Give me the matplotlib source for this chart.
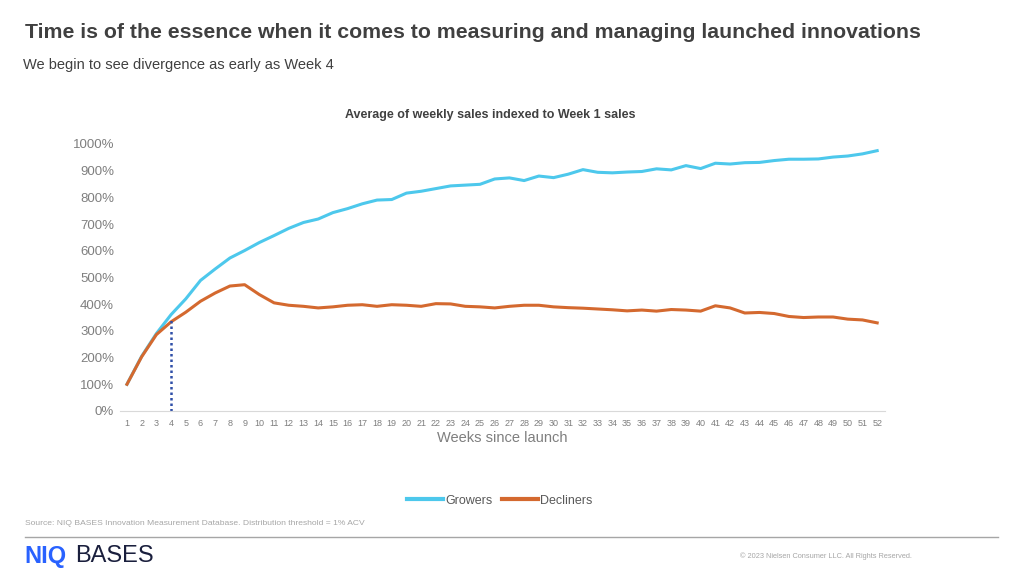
import numpy as np
import matplotlib.pyplot as plt
from matplotlib.ticker import FuncFormatter

plt.rcParams['font.family'] = ['Liberation Sans', 'DejaVu Sans']

weeks = np.arange(1, 53)
growers = [100, 205, 290, 361, 420, 489, 532, 573, 601, 631,
           657, 684, 706, 719, 743, 758, 776, 790, 792, 816,
           823, 833, 843, 846, 849, 869, 873, 863, 880, 874,
           887, 904, 894, 892, 895, 897, 907, 903, 919, 908,
           928, 925, 930, 931, 938, 943, 943, 944, 951, 955,
           963, 975]
decliners = [100, 203, 286, 334, 370, 411, 442, 468, 473, 436,
             405, 396, 392, 386, 390, 396, 398, 392, 398, 396,
             392, 402, 401, 392, 390, 386, 392, 396, 396, 390,
             387, 385, 382, 379, 375, 378, 374, 380, 378, 374,
             394, 386, 367, 369, 365, 354, 350, 352, 352, 344,
             341, 330]
marker_week = 4
marker_value = 342

fig = plt.figure(figsize=(10.24, 5.76), dpi=100)
ax = fig.add_axes([0.1168, 0.2865, 0.747, 0.4635])

ax.plot(weeks, growers, color='#4DC8EC', lw=2.2, label='Growers')
ax.plot(weeks, decliners, color='#D4692F', lw=2.2, label='Decliners')
ax.plot([marker_week, marker_week], [0, marker_value], color='#2F4FA8', lw=1.8, ls=(0, (1, 1.2)))

ax.set_xlim(0.5, 52.5)
ax.set_ylim(0, 1000)
ax.set_xticks(weeks)
ax.set_yticks(np.arange(0, 1001, 100))
ax.yaxis.set_major_formatter(FuncFormatter(lambda v, p: f'{int(v)}%'))
ax.tick_params(axis='x', labelsize=6.5, colors='#7F7F7F', length=0, pad=6)
ax.tick_params(axis='y', labelsize=9.5, colors='#7F7F7F', length=0, pad=4)
for s in ['top', 'right', 'left']:
    ax.spines[s].set_visible(False)
ax.spines['bottom'].set_color('#D9D9D9')
ax.set_xlabel('Weeks since launch', fontsize=10.5, color='#7F7F7F', labelpad=2)

fig.text(0.024, 0.944, 'Time is of the essence when it comes to measuring and managing launched innovations',
         fontsize=15.3, fontweight='bold', color='#404040', va='center')
fig.text(0.022, 0.888, 'We begin to see divergence as early as Week 4',
         fontsize=10.5, color='#404040', va='center')
fig.text(0.479, 0.800, 'Average of weekly sales indexed to Week 1 sales',
         fontsize=9, fontweight='bold', color='#404040', va='center', ha='center')

leg = fig.legend(loc='center', bbox_to_anchor=(0.488, 0.131), ncol=2, frameon=False,
                 fontsize=9, labelcolor='#595959', handlelength=2.9, columnspacing=0.7,
                 handletextpad=0.2)
for line in leg.get_lines():
    line.set_linewidth(3)

fig.text(0.024, 0.092, 'Source: NIQ BASES Innovation Measurement Database. Distribution threshold = 1% ACV',
         fontsize=6.1, color='#A6A6A6', va='center')
fig.add_artist(plt.Line2D([0.024, 0.975], [0.068, 0.068], color='#A6A6A6', lw=1))
fig.text(0.024, 0.034, 'NIQ', fontsize=17, fontweight='bold', color='#2962FF', va='center')
fig.text(0.073, 0.034, 'BASES', fontsize=17, color='#1A1F3D', va='center')
fig.text(0.723, 0.034, '\u00a9 2023 Nielsen Consumer LLC. All Rights Reserved.',
         fontsize=5.3, color='#A6A6A6', va='center')

fig.savefig('out.png', dpi=100, facecolor='white')
